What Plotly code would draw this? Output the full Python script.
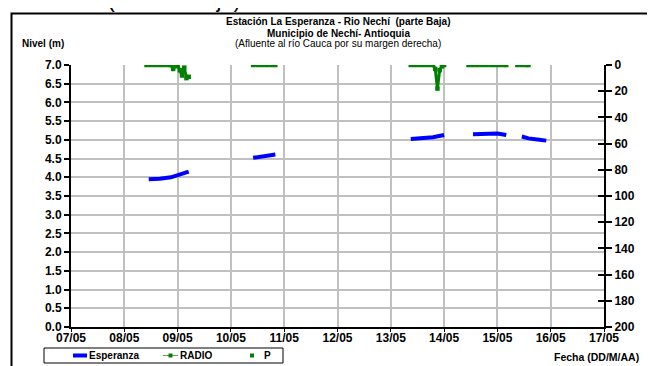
import plotly.graph_objects as go

# ---------------- data ----------------
esp_time = [
    "2011-05-08 11:00", "2011-05-08 16:00", "2011-05-08 21:00", "2011-05-09 01:00", "2011-05-09 05:00",
    None,
    "2011-05-10 10:00", "2011-05-10 14:00", "2011-05-10 17:00", "2011-05-10 20:00",
    None,
    "2011-05-13 09:00", "2011-05-13 15:00", "2011-05-13 19:00", "2011-05-14 00:00",
    None,
    "2011-05-14 13:00", "2011-05-14 20:00", "2011-05-15 00:00", "2011-05-15 04:00",
    None,
    "2011-05-15 11:00", "2011-05-15 14:00", "2011-05-15 18:00", "2011-05-15 22:00",
]
esp_level = [
    3.95, 3.96, 4.00, 4.07, 4.15,
    None,
    4.52, 4.55, 4.58, 4.61,
    None,
    5.02, 5.04, 5.07, 5.13,
    None,
    5.15, 5.17, 5.17, 5.13,
    None,
    5.09, 5.04, 5.01, 4.98,
]

radio_time = [
    "2011-05-08 10:00", "2011-05-08 12:00", "2011-05-08 14:00", "2011-05-08 16:00", "2011-05-08 18:00",
    "2011-05-08 20:00", "2011-05-08 21:00", "2011-05-08 22:00", "2011-05-08 23:00", "2011-05-09 00:00",
    "2011-05-09 01:00", "2011-05-09 02:00", "2011-05-09 03:00", "2011-05-09 04:00", "2011-05-09 05:00",
    None,
    "2011-05-10 10:00", "2011-05-10 12:00", "2011-05-10 14:00", "2011-05-10 16:00", "2011-05-10 18:00",
    "2011-05-10 20:00",
    None,
    "2011-05-13 09:00", "2011-05-13 11:00", "2011-05-13 13:00", "2011-05-13 15:00", "2011-05-13 17:00",
    "2011-05-13 19:00", "2011-05-13 20:00", "2011-05-13 21:00", "2011-05-13 22:00", "2011-05-13 23:00",
    "2011-05-14 00:00",
    None,
    "2011-05-14 11:00", "2011-05-14 13:00", "2011-05-14 15:00", "2011-05-14 17:00", "2011-05-14 19:00",
    "2011-05-14 21:00", "2011-05-14 23:00", "2011-05-15 01:00", "2011-05-15 03:00", "2011-05-15 04:00",
    None,
    "2011-05-15 09:00", "2011-05-15 11:00", "2011-05-15 13:00", "2011-05-15 14:00",
]
radio_mm = [
    0, 0, 0, 0, 0,
    0, 0, 3, 1, 0,
    4, 8, 2, 10, 9,
    None,
    0, 0, 0, 0, 0,
    0,
    None,
    0, 0, 0, 0, 0,
    0, 3, 18, 4, 1,
    0,
    None,
    0, 0, 0, 0, 0,
    0, 0, 0, 0, 0,
    None,
    0, 0, 0, 0,
]

level_ticks = [0.0, 0.5, 1.0, 1.5, 2.0, 2.5, 3.0, 3.5, 4.0, 4.5, 5.0, 5.5, 6.0, 6.5, 7.0]
precip_ticks = [0, 20, 40, 60, 80, 100, 120, 140, 160, 180, 200]
legend_names = ["Esperanza", "RADIO", "P"]

# ---------------- layout geometry (page pixels; page has an 8px body margin) ----------------
OFF = 8
W, H = 655 - OFF, 366 - OFF
L, R, T, B = 71 - OFF, 604 - OFF, 65 - OFF, 327 - OFF
pw, ph = R - L, B - T


def px(x):  # page x -> paper fraction
    return (x - OFF - L) / pw


def py(y):  # page y -> paper fraction
    return (B - (y - OFF)) / ph


GREEN = "#008000"
BLUE = "#0000FF"
FONT = "Liberation Sans, Arial, sans-serif"

fig = go.Figure()

fig.add_trace(go.Scatter(
    x=esp_time, y=esp_level, name=legend_names[0], mode="lines",
    line=dict(color=BLUE, width=4), connectgaps=False,
))
fig.add_trace(go.Scatter(
    x=radio_time, y=radio_mm, name=legend_names[1], mode="lines+markers", yaxis="y2",
    line=dict(color=GREEN, width=3), marker=dict(symbol="square", size=4.5, color=GREEN),
    connectgaps=False,
))

tickfont = dict(family=FONT, size=12, color="black", weight="bold")

fig.update_layout(
    width=W, height=H,
    margin=dict(l=L, r=W - R, t=T, b=H - B, autoexpand=False),
    paper_bgcolor="white", plot_bgcolor="white",
    font=dict(family=FONT, color="black"),
    showlegend=False,
    xaxis=dict(
        type="date", range=["2011-05-07 00:00", "2011-05-17 00:00"],
        dtick=86400000, tick0="2011-05-07", tickformat="%d/%m",
        showgrid=True, gridcolor="#c0c0c0", gridwidth=1.5,
        showline=True, linecolor="black", linewidth=2,
        ticks="outside", ticklen=3, tickcolor="black",
        tickfont=tickfont, zeroline=False, ticklabelstandoff=-4,
    ),
    yaxis=dict(
        range=[0, 7.0], tickvals=level_ticks, tickformat=".1f",
        showgrid=True, gridcolor="#c0c0c0", gridwidth=1.5,
        showline=True, linecolor="black", linewidth=2,
        ticks="outside", ticklen=5, tickcolor="black", tickwidth=1.5,
        tickfont=tickfont, zeroline=False,
    ),
    yaxis2=dict(
        overlaying="y", side="right", range=[200, 0], tickvals=precip_ticks,
        showgrid=False, showline=True, linecolor="black", linewidth=2,
        ticks="outside", ticklen=6, tickcolor="black", tickwidth=1.5,
        tickfont=tickfont, zeroline=False,
    ),
    yaxis3=dict(
        overlaying="y", side="right", range=[200, 0], tickvals=precip_ticks,
        showgrid=False, showline=False, showticklabels=False,
        ticks="inside", ticklen=6, tickcolor="black", tickwidth=1.5, zeroline=False,
    ),
)
# invisible helper trace so the inner-tick axis is drawn
fig.add_trace(go.Scatter(x=[None], y=[None], yaxis="y3", showlegend=False, hoverinfo="skip"))

shapes = []
# outer frame
shapes.append(dict(type="rect", x0=px(11.5), x1=px(700), y0=py(420), y1=py(13.5),
                   line=dict(color="black", width=2), fillcolor="rgba(0,0,0,0)"))
# legend box
shapes.append(dict(type="rect", x0=px(44), x1=px(283), y0=py(363), y1=py(348),
                   line=dict(color="black", width=1), fillcolor="white"))
shapes.append(dict(type="line", x0=px(73), x1=px(87), y0=py(355.5), y1=py(355.5),
                   line=dict(color=BLUE, width=4)))
shapes.append(dict(type="line", x0=px(163), x1=px(178), y0=py(355.5), y1=py(355.5),
                   line=dict(color="#6a9a6a", width=1)))
shapes.append(dict(type="rect", x0=px(168.5), x1=px(172.5), y0=py(357.5), y1=py(353.5),
                   line=dict(width=0), fillcolor=GREEN))
shapes.append(dict(type="rect", x0=px(250), x1=px(254), y0=py(357.5), y1=py(353.5),
                   line=dict(width=0), fillcolor=GREEN))
for s in shapes:
    s.update(xref="paper", yref="paper", layer="above")
fig.update_layout(shapes=shapes)

ann = []
ann.append(dict(text="<b>Río Nechí</b> (cuenca baja)", x=px(-2), y=py(14), xanchor="left", yanchor="bottom",
                font=dict(size=22)))
ann.append(dict(text="<b>Estación La Esperanza - Rio Nechí  (parte Baja)</b>", x=px(338), y=py(22),
                xanchor="center", yanchor="middle", font=dict(size=10)))
ann.append(dict(text="<b>Municipio de Nechí- Antioquia</b>", x=px(338), y=py(33),
                xanchor="center", yanchor="middle", font=dict(size=10)))
ann.append(dict(text="(Afluente al río Cauca por su margen derecha)", x=px(338), y=py(44),
                xanchor="center", yanchor="middle", font=dict(size=10)))
ann.append(dict(text="<b>Nivel (m)</b>", x=px(20), y=py(44), xanchor="left", yanchor="middle",
                font=dict(size=10)))
ann.append(dict(text="<b>Fecha (DD/M/AA)</b>", x=px(552), y=py(357), xanchor="left", yanchor="middle",
                font=dict(size=10.5)))
ann.append(dict(text="<b>Precipitación (mm)</b>", x=px(659), y=py(108), xanchor="center", yanchor="middle",
                textangle=90, font=dict(size=10)))
# legend labels
ann.append(dict(text="<b>%s</b>" % legend_names[0], x=px(87), y=py(355.5), xanchor="left", yanchor="middle",
                font=dict(size=10)))
ann.append(dict(text="<b>%s</b>" % legend_names[1], x=px(178), y=py(355.5), xanchor="left", yanchor="middle",
                font=dict(size=10)))
ann.append(dict(text="<b>%s</b>" % legend_names[2], x=px(262), y=py(355.5), xanchor="left", yanchor="middle",
                font=dict(size=10)))
for a in ann:
    a.update(xref="paper", yref="paper", showarrow=False)
fig.update_layout(annotations=ann)

fig.write_html("out.html")
